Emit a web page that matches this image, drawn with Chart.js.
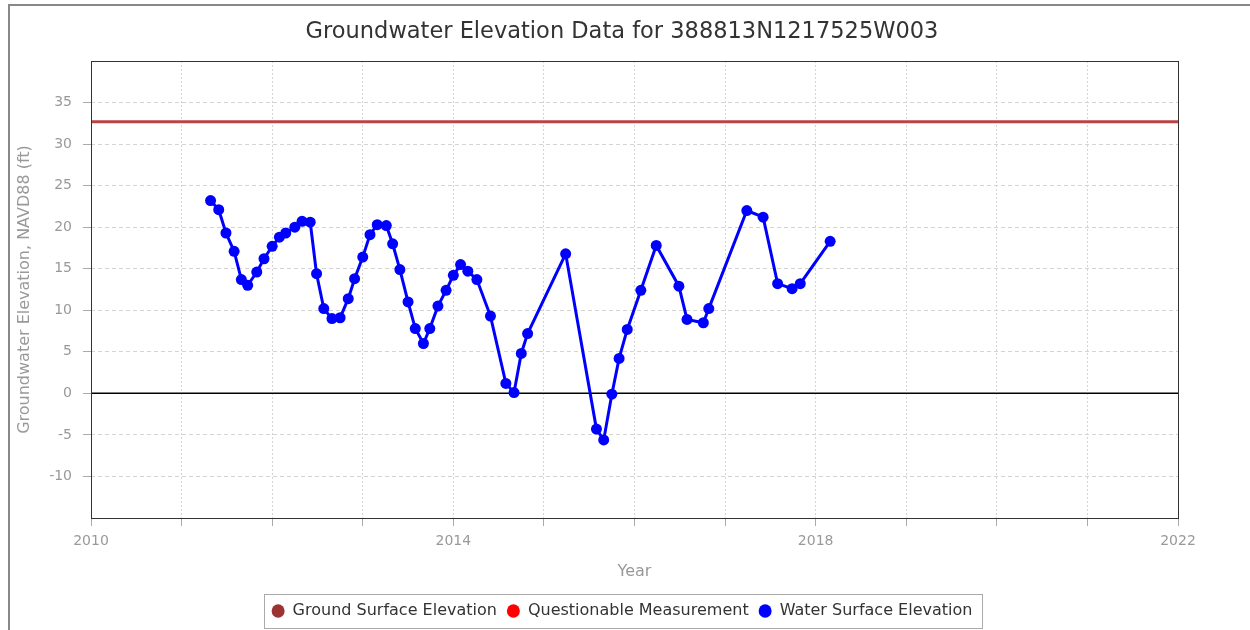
<!DOCTYPE html>
<html>
<head>
<meta charset="utf-8">
<title>Groundwater Elevation Data</title>
<script src="https://cdn.jsdelivr.net/npm/chart.js@4.4.1/dist/chart.umd.min.js"></script>
<style>
  body { margin: 0; background: #fff; overflow: hidden; }
  #frame {
    position: absolute; left: 8px; top: 4px; width: 1260px; height: 640px;
    border-left: 2px solid #888; border-top: 2px solid #888;
  }
  #chart { position: absolute; left: 0; top: 0; }
</style>
</head>
<body>
<div id="frame"><canvas id="chart" width="1240" height="624"></canvas></div>
<script>
// Water surface elevation readings (decimal year, ft NAVD88)
const waterYears = [
  2011.32, 2011.41, 2011.49, 2011.58, 2011.66, 2011.73, 2011.83, 2011.91, 2012.00, 2012.08,
  2012.15, 2012.25, 2012.33, 2012.42, 2012.49, 2012.57, 2012.66, 2012.75, 2012.84, 2012.91,
  2013.00, 2013.08, 2013.16, 2013.26, 2013.33, 2013.41, 2013.50, 2013.58, 2013.67, 2013.74,
  2013.83, 2013.92, 2014.00, 2014.08, 2014.16, 2014.26, 2014.41, 2014.58, 2014.67, 2014.75,
  2014.82, 2015.24, 2015.58, 2015.66, 2015.75, 2015.83, 2015.92, 2016.07, 2016.24, 2016.49,
  2016.58, 2016.76, 2016.82, 2017.24, 2017.42, 2017.58, 2017.74, 2017.83, 2018.16
];
const waterLevels = [
  23.2, 22.1, 19.3, 17.1, 13.7, 13.0, 14.6, 16.2, 17.7, 18.8,
  19.3, 20.0, 20.7, 20.6, 14.4, 10.2, 9.0, 9.1, 11.4, 13.8,
  16.4, 19.1, 20.3, 20.2, 18.0, 14.9, 11.0, 7.8, 6.0, 7.8,
  10.5, 12.4, 14.2, 15.5, 14.7, 13.7, 9.3, 1.2, 0.1, 4.8,
  7.2, 16.8, -4.3, -5.6, -0.1, 4.2, 7.7, 12.4, 17.8, 12.9,
  8.9, 8.5, 10.2, 22.0, 21.2, 13.2, 12.6, 13.2, 18.3
];
const groundYears = [2010, 2022];
const groundLevels = [32.7, 32.7];
const questionableYears = [];
const questionableLevels = [];
const yearLabels = [2010, 2014, 2018, 2022];

const toPoints = (xs, ys) => xs.map((x, i) => ({ x: x, y: ys[i] }));

// frame round the plot and the zero reference line
const plotFrame = {
  id: 'plotFrame',
  beforeDatasetsDraw(chart) {
    const { ctx, chartArea: a, scales } = chart;
    const y0 = scales.y.getPixelForValue(0);
    ctx.save();
    ctx.strokeStyle = '#000';
    ctx.lineWidth = 1.5;
    ctx.beginPath();
    ctx.moveTo(a.left, y0);
    ctx.lineTo(a.right, y0);
    ctx.stroke();
    ctx.restore();
  },
  afterDraw(chart) {
    const { ctx, chartArea: a, legend } = chart;
    ctx.save();
    ctx.strokeStyle = '#333';
    ctx.lineWidth = 1;
    ctx.strokeRect(a.left + 0.5, a.top + 0.5, a.right - a.left, a.bottom - a.top);
    // box round the legend
    const boxes = legend.legendHitBoxes;
    if (boxes && boxes.length) {
      const l = Math.min(...boxes.map(b => b.left)) - 8;
      const r = Math.max(...boxes.map(b => b.left + b.width)) + 9;
      const t = Math.min(...boxes.map(b => b.top)) - 9;
      const btm = Math.max(...boxes.map(b => b.top + b.height)) + 9;
      ctx.strokeStyle = '#aaa';
      ctx.strokeRect(Math.round(l) + 0.5, Math.round(t) + 0.5, Math.round(r - l), Math.round(btm - t));
    }
    ctx.restore();
  }
};

Chart.defaults.font.family = '"DejaVu Sans", Verdana, sans-serif';
Chart.defaults.color = '#999';

new Chart(document.getElementById('chart'), {
  type: 'line',
  data: {
    datasets: [
      {
        label: 'Ground Surface Elevation',
        data: toPoints(groundYears, groundLevels),
        borderColor: '#b94444',
        backgroundColor: '#9c3333',
        pointBackgroundColor: '#9c3333',
        pointBorderColor: '#9c3333',
        pointBorderWidth: 0,
        borderWidth: 3,
        pointRadius: 0,
        pointStyle: 'circle'
      },
      {
        label: 'Questionable Measurement',
        data: toPoints(questionableYears, questionableLevels),
        borderColor: '#ff0000',
        backgroundColor: '#ff0000',
        pointBackgroundColor: '#ff0000',
        pointBorderWidth: 0,
        showLine: false,
        pointStyle: 'circle'
      },
      {
        label: 'Water Surface Elevation',
        data: toPoints(waterYears, waterLevels),
        borderColor: '#0000ff',
        backgroundColor: '#0000ff',
        pointBackgroundColor: '#0000ff',
        pointBorderWidth: 0,
        borderWidth: 3,
        pointRadius: 5.5,
        pointStyle: 'circle',
        tension: 0
      }
    ]
  },
  options: {
    responsive: false,
    animation: false,
    layout: { padding: { left: 0, right: 16, top: 0, bottom: 1 } },
    plugins: {
      title: {
        display: true,
        text: 'Groundwater Elevation Data for 388813N1217525W003',
        color: '#333',
        font: { size: 22.5, weight: 'normal' },
        padding: { top: 13, bottom: 15 }
      },
      legend: {
        position: 'bottom',
        labels: {
          usePointStyle: true,
          pointStyleWidth: 13,
          boxHeight: 9.5,
          color: '#333',
          font: { size: 16 },
          padding: 10
        }
      },
      tooltip: { enabled: false }
    },
    scales: {
      x: {
        type: 'linear',
        min: 2010,
        max: 2022,
        afterFit: s => { s.height = 75; },
        ticks: {
          stepSize: 1,
          autoSkip: false,
          maxRotation: 0,
          padding: 7,
          font: { size: 14 },
          callback: v => yearLabels.includes(v) ? String(v) : ''
        },
        grid: {
          color: '#d4d4d4',
          tickColor: '#aaa',
          tickLength: 8,
          tickBorderDash: []
        },
        border: { display: false, dash: [2, 2] },
        title: {
          display: true,
          text: 'Year',
          font: { size: 16 },
          padding: { top: 4, bottom: 12 }
        }
      },
      y: {
        min: -15,
        max: 40,
        afterFit: s => { s.width = 81; },
        ticks: {
          stepSize: 5,
          padding: 11,
          font: { size: 14 },
          callback: v => (v === -15 || v === 40) ? '' : String(v)
        },
        grid: {
          color: c => c.tick && c.tick.value === 0 ? 'rgba(0,0,0,0)' : '#d4d4d4',
          tickColor: c => c.tick && (c.tick.value === -15 || c.tick.value === 40) ? 'rgba(0,0,0,0)' : '#aaa',
          tickLength: 8,
          tickBorderDash: []
        },
        border: { display: false, dash: [4, 3] },
        title: {
          display: true,
          text: 'Groundwater Elevation, NAVD88 (ft)',
          font: { size: 16 },
          padding: { top: 5, bottom: 4 }
        }
      },
      // empty right-hand gutter so the title and legend centre on the page
      gutter: {
        position: 'right',
        afterFit: s => { s.width = 56; },
        grid: { display: false },
        ticks: { display: false },
        border: { display: false }
      }
    }
  },
  plugins: [plotFrame]
});
</script>
</body>
</html>
